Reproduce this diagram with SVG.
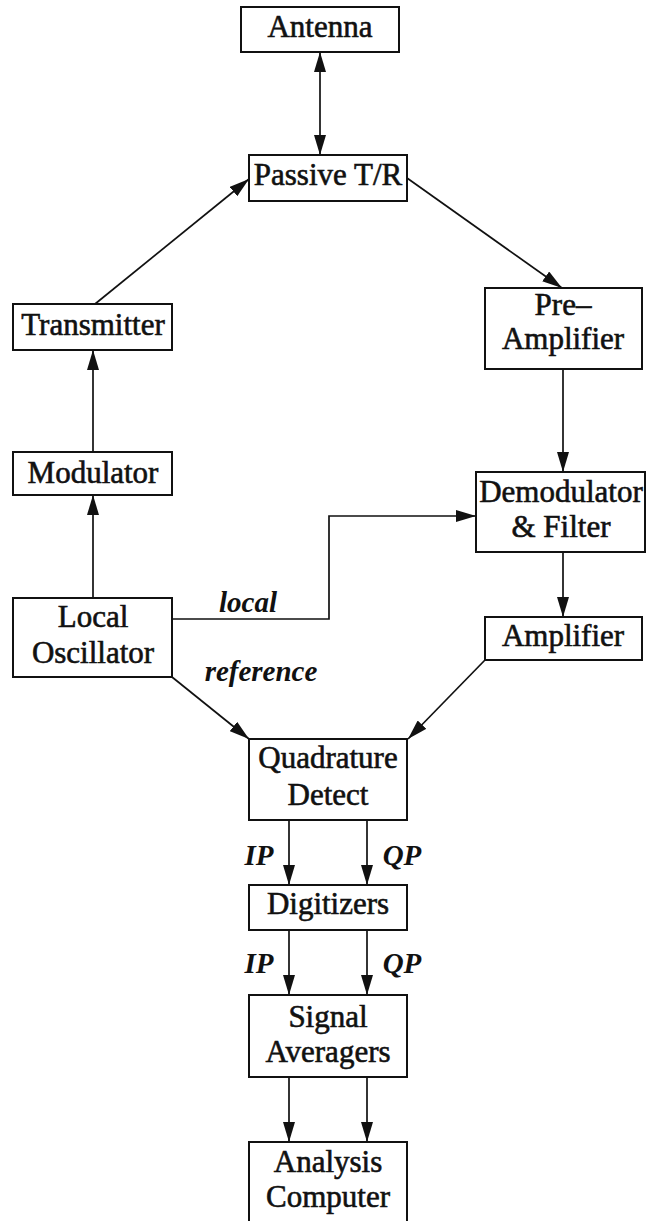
<svg xmlns="http://www.w3.org/2000/svg" width="651" height="1221" viewBox="0 0 651 1221">
  <defs>
    <marker id="arrow" markerUnits="userSpaceOnUse" markerWidth="20" markerHeight="12" refX="20" refY="6" orient="auto-start-reverse" viewBox="0 0 20 12">
      <path d="M0,0 L20,6 L0,12 z" fill="#111"/>
    </marker>
    <style>
      .box { fill: #fff; stroke: #111; stroke-width: 2; }
      .lbl { font-size: 31px; fill: #111; text-anchor: middle; stroke: #111; stroke-width: 0.6; }
      .tag { font-size: 29px; font-style: italic; font-weight: bold; fill: #111; text-anchor: middle; }
      .wire { fill: none; stroke: #111; stroke-width: 1.7; }
      .arr { marker-end: url(#arrow); }
    </style>
  </defs>
  <rect width="651" height="1221" fill="#fff"/>

  <g font-family="'Liberation Serif', 'Times New Roman', serif">
  <!-- connectors -->
  <g id="connectors">
    <line class="wire" x1="320" y1="52" x2="320" y2="155" marker-start="url(#arrow)" marker-end="url(#arrow)"/>
    <line class="wire arr" x1="95" y1="304" x2="249" y2="179"/>
    <line class="wire arr" x1="407" y1="178" x2="562" y2="288"/>
    <line class="wire arr" x1="563" y1="369" x2="563" y2="472"/>
    <line class="wire arr" x1="563" y1="552" x2="563" y2="617"/>
    <line class="wire arr" x1="93" y1="452" x2="93" y2="350"/>
    <line class="wire arr" x1="93" y1="598" x2="93" y2="495"/>
    <polyline class="wire arr" points="172,619 329,619 329,516 476,516"/>
    <line class="wire arr" x1="172" y1="677" x2="249" y2="739"/>
    <line class="wire arr" x1="485" y1="660" x2="408" y2="739"/>
    <line class="wire arr" x1="289" y1="820" x2="289" y2="885"/>
    <line class="wire arr" x1="367" y1="820" x2="367" y2="885"/>
    <line class="wire arr" x1="289" y1="930" x2="289" y2="995"/>
    <line class="wire arr" x1="367" y1="930" x2="367" y2="995"/>
    <line class="wire arr" x1="289" y1="1077" x2="289" y2="1142"/>
    <line class="wire arr" x1="367" y1="1077" x2="367" y2="1142"/>
    <text class="tag" x="248" y="612">local</text>
    <text class="tag" x="261" y="681">reference</text>
    <text class="tag" x="259" y="865">IP</text>
    <text class="tag" x="402" y="865">QP</text>
    <text class="tag" x="259" y="973">IP</text>
    <text class="tag" x="402" y="973">QP</text>
  </g>

  <g id="antenna">
    <rect class="box" x="241" y="7" width="158" height="45"/>
    <text class="lbl" x="320" y="37">Antenna</text>
  </g>
  <g id="passive-tr">
    <rect class="box" x="249" y="155" width="158" height="46"/>
    <text class="lbl" x="328" y="185">Passive T/R</text>
  </g>
  <g id="transmitter">
    <rect class="box" x="13" y="304" width="159" height="46"/>
    <text class="lbl" x="93" y="335">Transmitter</text>
  </g>
  <g id="pre-amplifier">
    <rect class="box" x="485" y="288" width="157" height="81"/>
    <text class="lbl" x="563" y="315">Pre–</text>
    <text class="lbl" x="563" y="349">Amplifier</text>
  </g>
  <g id="modulator">
    <rect class="box" x="13" y="452" width="159" height="43"/>
    <text class="lbl" x="93" y="483">Modulator</text>
  </g>
  <g id="demodulator">
    <rect class="box" x="476" y="472" width="169" height="80"/>
    <text class="lbl" x="561" y="502">Demodulator</text>
    <text class="lbl" x="561" y="537">&amp; Filter</text>
  </g>
  <g id="local-oscillator">
    <rect class="box" x="13" y="598" width="159" height="79"/>
    <text class="lbl" x="93" y="627">Local</text>
    <text class="lbl" x="93" y="663">Oscillator</text>
  </g>
  <g id="amplifier">
    <rect class="box" x="485" y="617" width="157" height="43"/>
    <text class="lbl" x="563" y="646">Amplifier</text>
  </g>
  <g id="quadrature-detect">
    <rect class="box" x="249" y="739" width="158" height="81"/>
    <text class="lbl" x="328" y="768">Quadrature</text>
    <text class="lbl" x="328" y="805">Detect</text>
  </g>
  <g id="digitizers">
    <rect class="box" x="249" y="885" width="158" height="45"/>
    <text class="lbl" x="328" y="914">Digitizers</text>
  </g>
  <g id="signal-averagers">
    <rect class="box" x="249" y="995" width="158" height="82"/>
    <text class="lbl" x="328" y="1027">Signal</text>
    <text class="lbl" x="328" y="1062">Averagers</text>
  </g>
  <g id="analysis-computer">
    <rect class="box" x="249" y="1142" width="158" height="90"/>
    <text class="lbl" x="328" y="1172">Analysis</text>
    <text class="lbl" x="328" y="1207">Computer</text>
  </g>
  </g>
</svg>
